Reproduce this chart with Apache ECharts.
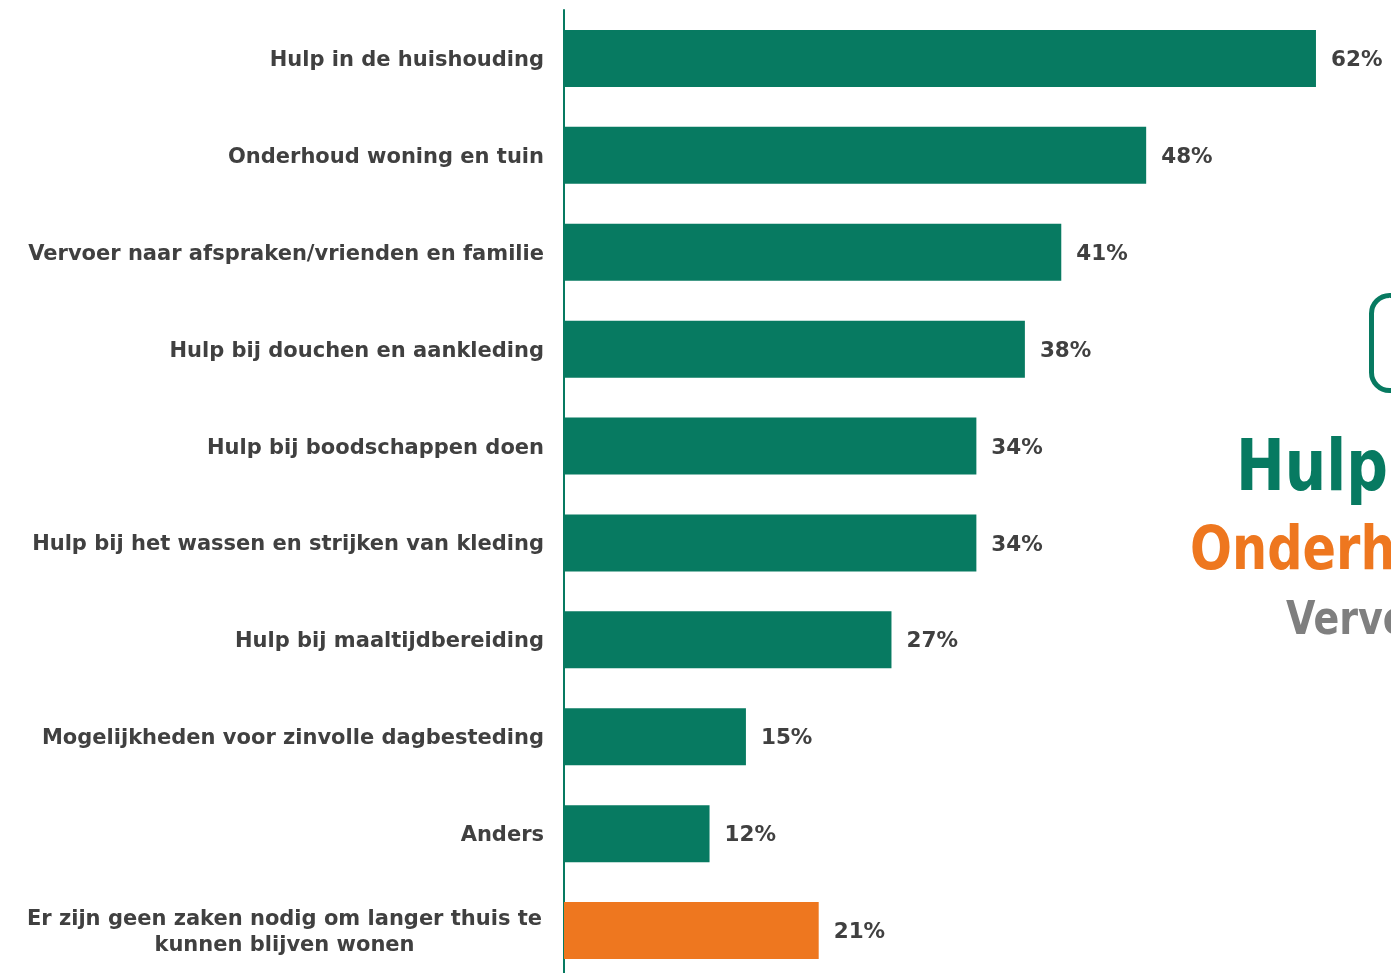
<!DOCTYPE html>
<html>
<head>
<meta charset="utf-8">
<script src="https://cdn.jsdelivr.net/npm/echarts@6/dist/echarts.min.js"></script>
<style>
  html, body { margin: 0; padding: 0; background: #ffffff; }
  #chart { width: 1391px; height: 973px; }
</style>
</head>
<body>
<div id="chart"></div>
<script>
// Wat is er nodig om langer thuis te kunnen blijven wonen?
const categories = [
  'Hulp in de huishouding',
  'Onderhoud woning en tuin',
  'Vervoer naar afspraken/vrienden en familie',
  'Hulp bij douchen en aankleding',
  'Hulp bij boodschappen doen',
  'Hulp bij het wassen en strijken van kleding',
  'Hulp bij maaltijdbereiding',
  'Mogelijkheden voor zinvolle dagbesteding',
  'Anders',
  'Er zijn geen zaken nodig om langer thuis te kunnen blijven wonen'
];
const percentages = [62, 48, 41, 38, 34, 34, 27, 15, 12, 21];
const highlightIndex = 9; // "geen zaken nodig" in oranje

const GREEN = '#077A61';
const ORANGE = '#EE771F';
const GREY = '#7F7F7F';
const TEXT = '#404040';
const FONT = '"DejaVu Sans", Verdana, sans-serif';
const HEADLINE_FONT = '"DejaVu Sans", sans-serif';

const chart = echarts.init(document.getElementById('chart'));

// Condensed headline words in the side panel
function headline(text, x, y, size, color) {
  return {
    type: 'text',
    x: x, y: y,
    scaleX: 0.81, scaleY: 1,
    style: {
      x: 0, y: 0,
      text: text,
      fill: color,
      align: 'left',
      verticalAlign: 'top',
      font: 'bold ' + size + 'px ' + HEADLINE_FONT
    }
  };
}

chart.setOption({
  backgroundColor: '#ffffff',
  animation: false,
  grid: {
    left: 564, top: 10, width: 849, height: 969,
    outerBoundsMode: 'none'
  },
  xAxis: {
    type: 'value', min: 0, max: 70,
    show: false,
    splitLine: { show: false }
  },
  yAxis: {
    type: 'category',
    inverse: true,
    data: categories,
    axisLine: { show: true, lineStyle: { color: GREEN, width: 2 } },
    axisTick: { show: false },
    axisLabel: {
      margin: 20,
      padding: [4, 0, 0, 0],
      color: TEXT,
      fontFamily: FONT,
      fontWeight: 'bold',
      fontSize: 21,
      formatter: function (value) {
        if (value.indexOf('Er zijn geen') === 0) {
          return '{c|Er zijn geen zaken nodig om langer thuis te}\n{c|kunnen blijven wonen}';
        }
        return value;
      },
      rich: {
        c: {
          width: 519, align: 'center', lineHeight: 26,
          color: TEXT, fontFamily: FONT, fontWeight: 'bold', fontSize: 21
        }
      }
    }
  },
  series: [{
    type: 'bar',
    barWidth: 57,
    data: percentages.map((v, i) => ({
      value: v,
      itemStyle: { color: i === highlightIndex ? ORANGE : GREEN }
    })),
    label: {
      show: true,
      position: 'right',
      distance: 15,
      offset: [0, 2],
      formatter: '{c}%',
      color: TEXT,
      fontFamily: FONT,
      fontWeight: 'bold',
      fontSize: 21.5
    }
  }],
  graphic: [
    {
      type: 'rect',
      shape: { x: 1371.5, y: 295.5, width: 120, height: 95, r: 18 },
      style: { fill: 'none', stroke: GREEN, lineWidth: 5 }
    },
    headline('Hulp in de huishouding', 1236, 435, 72, GREEN),
    headline('Onderhoud woning en tuin', 1190, 523, 61, ORANGE),
    headline('Vervoer naar afspraken', 1286, 598, 47, GREY)
  ]
});
</script>
</body>
</html>
